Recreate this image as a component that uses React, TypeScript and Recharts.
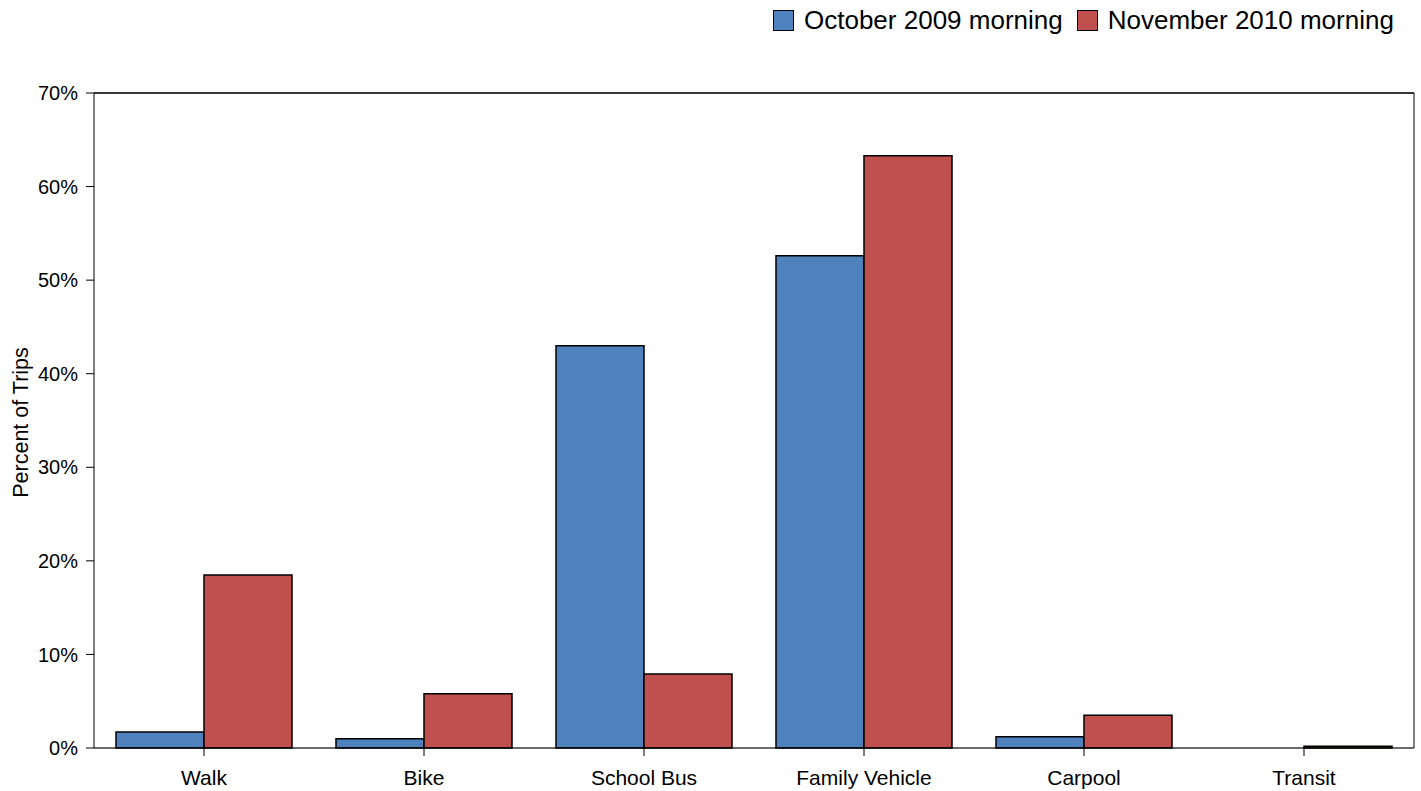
import React from 'react';
import { BarChart, Bar, XAxis, YAxis, CartesianGrid, ReferenceLine, Label } from 'recharts';

const modes = ['Walk', 'Bike', 'School Bus', 'Family Vehicle', 'Carpool', 'Transit'];
const october2009 = [1.7, 1.0, 43.0, 52.6, 1.2, 0];
const november2010 = [18.5, 5.8, 7.9, 63.3, 3.5, 0.2];
const yTicks = [0, 10, 20, 30, 40, 50, 60, 70];

const BLUE = '#4f81bd';
const RED = '#c0504d';
const FONT = '"Liberation Sans", Arial, sans-serif';

const data = modes.map((mode, i) => ({
  mode,
  oct: october2009[i],
  nov: november2010[i],
}));

// y axis title, rotated, near the left edge
const renderYLabel = (props: any) => {
  const vb = props.viewBox;
  const cy = vb.y + vb.height / 2 + 2;
  return (
    <text
      x={21}
      y={cy}
      transform={`rotate(-90, 21, ${cy})`}
      textAnchor="middle"
      dominantBaseline="central"
      fill="#000"
      fontSize={21.5}
      fontFamily={FONT}
    >
      Percent of Trips
    </text>
  );
};

const swatch = (color: string) => (
  <span style={{ display: 'inline-block', width: 19, height: 19, background: color, border: '1.5px solid #000', marginRight: 10 }} />
);

export default function App() {
  return (
    <div style={{ position: 'relative', width: 1421, height: 791, background: '#fff' }}>
      <style>{'body{margin:0}'}</style>
      {/* legend sits outside the plot, top right */}
      <div
        style={{
          position: 'absolute',
          top: 5,
          left: 773,
          display: 'flex',
          alignItems: 'center',
          fontFamily: FONT,
          fontSize: 26,
          color: '#000',
          whiteSpace: 'nowrap',
          zIndex: 2,
        }}
      >
        {swatch(BLUE)}
        <span style={{ marginRight: 14 }}>October 2009 morning</span>
        {swatch(RED)}
        <span>November 2010 morning</span>
      </div>
      <BarChart
        width={1421}
        height={791}
        data={data}
        margin={{ top: 93, right: 6, bottom: 0, left: 0 }}
        barCategoryGap="10%"
        barGap={0}
      >
        <CartesianGrid horizontal vertical={false} stroke="#c8c8c8" strokeWidth={1.5} />
        <XAxis
          dataKey="mode"
          height={43}
          stroke="#000"
          tickSize={8}
          tick={{ fill: '#000', fontSize: 21, fontFamily: FONT }}
          tickMargin={14}
        />
        <YAxis
          yAxisId="l"
          width={94}
          domain={[0, 70]}
          ticks={yTicks}
          interval={0}
          stroke="#000"
          tickSize={8}
          tickMargin={8}
          tickFormatter={(v) => `${v}%`}
          tick={{ fill: '#000', fontSize: 20, fontFamily: FONT }}
        >
          <Label content={renderYLabel} />
        </YAxis>
        <YAxis yAxisId="r" orientation="right" width={1} domain={[0, 70]} tick={false} tickLine={false} stroke="#000" />
        <ReferenceLine yAxisId="l" y={70} stroke="#000" strokeWidth={1.5} />
        <Bar yAxisId="l" dataKey="oct" name="October 2009 morning" fill={BLUE} stroke="#000" strokeWidth={1.5} isAnimationActive={false} />
        <Bar yAxisId="l" dataKey="nov" name="November 2010 morning" fill={RED} stroke="#000" strokeWidth={1.5} isAnimationActive={false} />
      </BarChart>
    </div>
  );
}
